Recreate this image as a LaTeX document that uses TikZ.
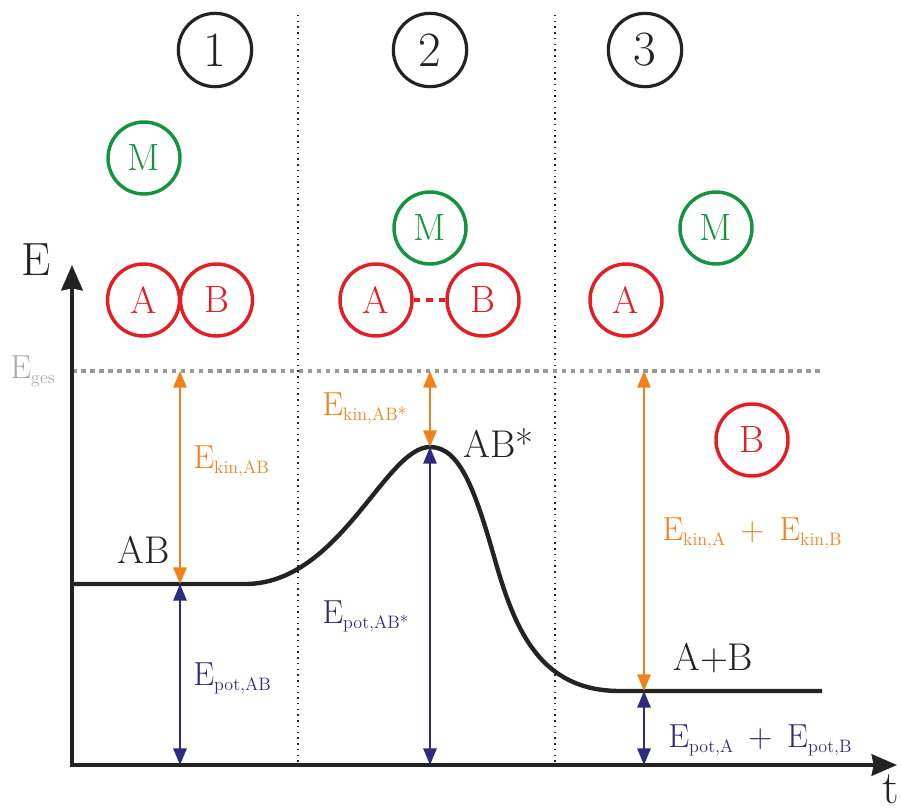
\documentclass[tikz,border=0pt]{standalone}
\usepackage{fontspec}
\usetikzlibrary{arrows.meta}
\definecolor{myorange}{HTML}{F0821E}
\definecolor{mypurple}{HTML}{2E2A7E}
\definecolor{myred}{HTML}{E31E24}
\definecolor{mygreen}{HTML}{14943F}
\definecolor{mygray}{HTML}{999999}
\definecolor{mygraytext}{HTML}{AAAAAA}
\definecolor{myblack}{HTML}{232323}
\newcommand\Esub[1]{E\raisebox{-3.8pt}{\fontsize{13.5}{13.5}\selectfont #1}}
\newcommand\plusgap{\hspace{0.45em}+\hspace{0.45em}}
\begin{document}
\begin{tikzpicture}[x=0.75pt,y=-0.75pt,
  numcirc/.style={circle,draw=myblack,line width=2.4pt,minimum size=55pt,inner sep=0pt,font=\fontsize{37}{40}\selectfont,text=myblack},
  partcirc/.style={circle,line width=2.6pt,minimum size=54pt,inner sep=0pt,font=\fontsize{28.5}{30}\selectfont},
  redcirc/.style={partcirc,draw=myred,text=myred},
  greencirc/.style={partcirc,draw=mygreen,text=mygreen},
  biglabel/.style={font=\fontsize{29}{30}\selectfont,text=myblack,anchor=base west,inner sep=0pt},
  axislabel/.style={font=\fontsize{35}{36}\selectfont,text=myblack,anchor=base west,inner sep=0pt},
  elabel/.style={font=\fontsize{25}{28}\selectfont,anchor=base west,inner sep=0pt},
  axis/.style={draw=myblack,line width=3pt,line join=miter,{Stealth[length=19pt,width=16pt,inset=1.5pt]}-{Stealth[length=19pt,width=16pt,inset=1.5pt]}},
  curve/.style={draw=myblack,line width=3.3pt},
  divider/.style={draw=myblack,line width=1.1pt,dash pattern=on 1.1pt off 3.2pt},
  gesline/.style={draw=mygray,line width=2.6pt,dash pattern=on 3.4pt off 3.4pt},
  kinarrow/.style={draw=myorange,line width=1.5pt,{Triangle[length=12.5pt,width=10pt]}-{Triangle[length=12.5pt,width=10pt]}},
  potarrow/.style={draw=mypurple,line width=1.5pt,{Triangle[length=12.5pt,width=10pt]}-{Triangle[length=12.5pt,width=10pt]}},
  bond/.style={draw=myred,line width=2.6pt,dash pattern=on 5pt off 4.5pt}
]
\useasboundingbox (0,0) rectangle (902,811);

% dividers
\coordinate (d1t) at (298,15); \coordinate (d1b) at (298,765);
\coordinate (d2t) at (555,15); \coordinate (d2b) at (555,765);
\draw[divider] (d1t) -- (d1b);
\draw[divider] (d2t) -- (d2b);

% stage numbers
\node[numcirc] (n1) at (215,50) {1};
\node[numcirc] (n2) at (430,50) {2};
\node[numcirc] (n3) at (645,50) {3};

% particles
\node[greencirc] (M1) at (144,158) {M};
\node[redcirc] (A1) at (143.5,300) {A};
\node[redcirc] (B1) at (216.5,300) {B};

\node[greencirc] (M2) at (430,228) {M};
\node[redcirc] (A2) at (376,300) {A};
\node[redcirc] (B2) at (483,300) {B};
\draw[bond] (A2.east) -- (B2.west);

\node[greencirc] (M3) at (716,228) {M};
\node[redcirc] (A3) at (626,300) {A};
\node[redcirc] (B3) at (752,440) {B};

% E_ges line
\coordinate (G0) at (72,371); \coordinate (G1) at (822,371);
\draw[gesline] (G0) -- (G1);

% energy curve
\coordinate (c0) at (72,584);
\coordinate (c1) at (245,584);
\coordinate (peak) at (430,447);
\coordinate (c3) at (495,560);
\coordinate (c4) at (620,691);
\coordinate (c5) at (822,691);
\draw[curve] (c0) -- (c1) .. controls (340,584) and (385,447) .. (peak)
  .. controls (460,447) and (475,490) .. (c3)
  .. controls (515,630) and (540,691) .. (c4) -- (c5);

% axes
\coordinate (O) at (72,765);
\coordinate (Ytip) at (72,265);
\coordinate (Xtip) at (897,765);
\draw[axis] (Ytip) -- (O) -- (Xtip);
\node[axislabel] (Elab) at (21,275) {E};
\node[axislabel] (tlab) at (882,803) {t};
\node[elabel,text=mygraytext] (Eges) at (10,378) {\Esub{ges}};

% energy arrows
\coordinate (k1t) at (180,371); \coordinate (k1b) at (180,584); \coordinate (p1b) at (180,765);
\coordinate (k2t) at (430,371); \coordinate (p2b) at (430,765);
\coordinate (k3t) at (644,371); \coordinate (k3b) at (644,691); \coordinate (p3b) at (644,765);
\draw[kinarrow] (k1t) -- (k1b);
\draw[potarrow] (k1b) -- (p1b);
\draw[kinarrow] (k2t) -- (peak);
\draw[potarrow] (peak) -- (p2b);
\draw[kinarrow] (k3t) -- (k3b);
\draw[potarrow] (k3b) -- (p3b);

% labels
\node[biglabel] (lAB) at (117,563) {AB};
\node[biglabel] (lABs) at (463,457) {AB*};
\node[biglabel] (lApB) at (673,670) {A+B};

\node[elabel,text=myorange] (ek1) at (193,468) {\Esub{kin,AB}};
\node[elabel,text=mypurple] (ep1) at (193,685) {\Esub{pot,AB}};
\node[elabel,text=myorange] (ek2) at (322,415) {\Esub{kin,AB*}};
\node[elabel,text=mypurple] (ep2) at (322,623) {\Esub{pot,AB*}};
\node[elabel,text=myorange] (ek3) at (662,540) {\Esub{kin,A}\plusgap\Esub{kin,B}};
\node[elabel,text=mypurple] (ep3) at (668,747) {\Esub{pot,A}\plusgap\Esub{pot,B}};
\end{tikzpicture}
\end{document}
